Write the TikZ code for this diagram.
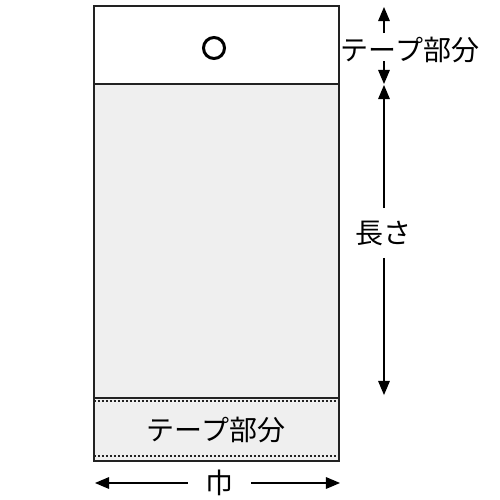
\documentclass[tikz,border=0pt]{standalone}
\usepackage{fontspec}
\newfontfamily\jpfont{Noto Sans CJK JP}
\usetikzlibrary{arrows}
\definecolor{bagfill}{HTML}{EFEFEF}
\definecolor{bagline}{HTML}{222222}

\begin{document}
\begin{tikzpicture}[line cap=butt,line join=miter,>=triangle 45,x=0.5pt,y=-0.5pt,
    jp/.style={font=\jpfont\fontsize{14pt}{15pt}\selectfont,inner sep=0pt},
    dimline/.style={black,line width=0.6pt},
    seam/.style={bagline,line width=0.6pt,dash pattern=on 1.2pt off 0.8pt}]
    \useasboundingbox (0,0) rectangle (500,500);

    % Bag
    \fill[bagfill] (94,84) rectangle (339,461);
    \draw[bagline,line width=0.9pt] (94,6) rectangle (339,461);
    \draw[bagline,line width=0.9pt] (94,84) -- (339,84);
    \draw[bagline,line width=0.7pt] (94,398) -- (339,398);
    \draw[seam] (94,401) -- (339,401);
    \draw[seam] (94,456) -- (339,456);
    \draw[black,line width=1.5pt] (214,48) circle (10.5);

    % Labels
    \node[jp] (tapeTop) at (410,50) {テープ部分};
    \node[jp,minimum height=24.5pt] (length) at (384,233) {長さ};
    \node[jp] (tapeBot) at (216,430) {テープ部分};
    \node[jp,minimum width=31.5pt] (width) at (219.5,483) {巾};

    % Dimension ends
    \coordinate (tapeUp) at (384,7);
    \coordinate (tapeUpFrom) at (384,33);
    \coordinate (tapeDnFrom) at (384,61);
    \coordinate (tapeDn) at (384,84);
    \coordinate (lenTop) at (384,85);
    \coordinate (lenBot) at (384,395);
    \coordinate (widL) at (95,483);
    \coordinate (widR) at (340,483);

    % Arrows
    \draw[dimline,->] (tapeUpFrom) -- (tapeUp);
    \draw[dimline,->] (tapeDnFrom) -- (tapeDn);
    \draw[dimline,->] (length.north) -- (lenTop);
    \draw[dimline,->] (length.south) -- (lenBot);
    \draw[dimline,->] (width.west) -- (widL);
    \draw[dimline,->] (width.east) -- (widR);
\end{tikzpicture}
\end{document}
